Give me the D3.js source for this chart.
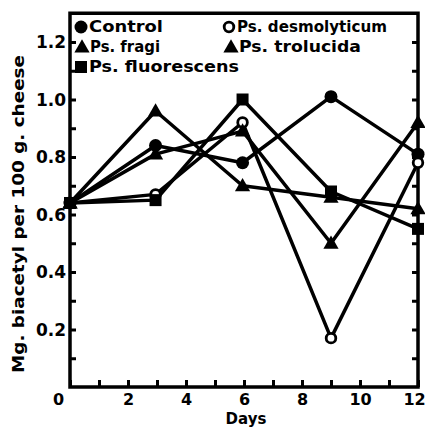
<!DOCTYPE html>
<html>
<head>
<meta charset="utf-8">
<script src="https://cdn.jsdelivr.net/npm/d3@7"></script>
<style>
  body { margin: 0; background: #fff; }
  text { font-family: "DejaVu Sans", sans-serif; font-weight: bold; fill: #000; }
</style>
</head>
<body>
<svg id="chart"></svg>
<script>
var width = 425, height = 428;

// data
var days = [0, 2.95, 5.95, 9, 12];
var control = [0.64, 0.84, 0.78, 1.01, 0.81];
var desmolyticum = [0.64, 0.67, 0.92, 0.17, 0.78];
var fragi = [0.64, 0.96, 0.70, 0.66, 0.62];
var trolucida = [0.64, 0.81, 0.89, 0.50, 0.92];
var fluorescens = [0.64, 0.65, 1.00, 0.68, 0.55];

var seriesNames = ["Control", "Ps. desmolyticum", "Ps. fragi", "Ps. trolucida", "Ps. fluorescens"];
var seriesShapes = ["circle", "open", "triangle", "triangle", "square"];
var seriesValues = [control, desmolyticum, fragi, trolucida, fluorescens];

var xTicks = [0, 1, 2, 3, 4, 5, 6, 7, 8, 9, 10, 11, 12];
var xLabels = [0, 2, 4, 6, 8, 10, 12];
var yMajor = [0.2, 0.4, 0.6, 0.8, 1.0, 1.2];
var yMinor = [0.1, 0.3, 0.5, 0.7, 0.9, 1.1];

var svg = d3.select("#chart").attr("width", width).attr("height", height);

var x = d3.scaleLinear().domain([0, 12]).range([70, 418]);
var y = d3.scaleLinear().domain([0, 1.3]).range([387, 13.25]);

// frame
svg.append("rect")
  .attr("x", x(0)).attr("y", y(1.3))
  .attr("width", x(12) - x(0)).attr("height", y(0) - y(1.3))
  .attr("fill", "none").attr("stroke", "#000").attr("stroke-width", 3.5);

// left axis, ticks pointing inward
var left = svg.append("g").attr("transform", "translate(" + x(0) + ",0)")
  .call(d3.axisLeft(y).tickValues(yMajor).tickSize(-6).tickPadding(4)
    .tickFormat(d3.format(".1f")));
left.append("g").call(d3.axisLeft(y).tickValues(yMinor).tickSize(-6).tickFormat(""));
left.selectAll(".domain").remove();
left.selectAll("line").attr("stroke", "#000").attr("stroke-width", 3);
left.selectAll("text").attr("font-size", 17).attr("dy", "0.35em")
  .style("font-family", "DejaVu Sans").style("font-weight", "bold");

// right axis
var right = svg.append("g").attr("transform", "translate(" + x(12) + ",0)")
  .call(d3.axisRight(y).tickValues(yMinor.concat(yMajor)).tickSize(-6).tickFormat(""));
right.selectAll(".domain").remove();
right.selectAll("line").attr("stroke", "#000").attr("stroke-width", 3);

// bottom axis
var bottom = svg.append("g").attr("transform", "translate(0," + y(0) + ")")
  .call(d3.axisBottom(x).tickValues(xTicks).tickSize(-7).tickPadding(7)
    .tickFormat(function(d) { return xLabels.indexOf(d) >= 0 ? d : ""; }));
bottom.selectAll(".domain").remove();
bottom.selectAll("line").attr("stroke", "#000").attr("stroke-width", 3);
bottom.selectAll("text").attr("font-size", 16).attr("dy", "0.7em")
  .style("font-family", "DejaVu Sans").style("font-weight", "bold")
  .attr("dx", function(d) { return d == 0 ? -12 : (d == 12 ? -4 : 0); });

svg.append("text").attr("x", 246).attr("y", 424).attr("text-anchor", "middle")
  .attr("font-size", 15).text("Days");

svg.append("text")
  .attr("transform", "translate(24,214) rotate(-90)")
  .attr("text-anchor", "middle").attr("font-size", 15)
  .attr("textLength", 318).attr("lengthAdjust", "spacingAndGlyphs")
  .text("Mg. biacetyl per 100 g. cheese");

// lines
var line = d3.line()
  .x(function(d, i) { return x(days[i]); })
  .y(function(d) { return y(d); });

seriesValues.forEach(function(vals) {
  svg.append("path").datum(vals)
    .attr("d", line)
    .attr("fill", "none").attr("stroke", "#000")
    .attr("stroke-width", 3.5).attr("stroke-linejoin", "round");
});

function drawMarker(g, shape, cx, cy) {
  if (shape == "circle") {
    g.append("circle").attr("cx", cx).attr("cy", cy).attr("r", 6.5).attr("fill", "#000");
  } else if (shape == "open") {
    g.append("circle").attr("cx", cx).attr("cy", cy).attr("r", 4.8)
      .attr("fill", "#fff").attr("stroke", "#000").attr("stroke-width", 2.8);
  } else if (shape == "square") {
    g.append("rect").attr("x", cx - 6).attr("y", cy - 6).attr("width", 12).attr("height", 12).attr("fill", "#000");
  } else {
    g.append("path").attr("d", d3.symbol().type(d3.symbolTriangle).size(100)())
      .attr("transform", "translate(" + cx + "," + (cy + 1) + ")").attr("fill", "#000");
  }
}

var marks = svg.append("g");
seriesValues.forEach(function(vals, s) {
  vals.forEach(function(v, i) {
    drawMarker(marks, seriesShapes[s], x(days[i]), y(v));
  });
});

// legend
var legendPos = [[81, 27], [229, 27], [82, 47], [231, 47], [81, 67]];
var legendLen = [74, 150, 70, 122, 150];
var legend = svg.append("g");
seriesNames.forEach(function(name, s) {
  var p = legendPos[s];
  drawMarker(legend, seriesShapes[s], p[0], p[1]);
  legend.append("text").attr("x", p[0] + 8).attr("y", p[1]).attr("dy", "0.36em")
    .attr("font-size", 15)
    .attr("textLength", legendLen[s]).attr("lengthAdjust", "spacingAndGlyphs")
    .text(name);
});
</script>
</body>
</html>
